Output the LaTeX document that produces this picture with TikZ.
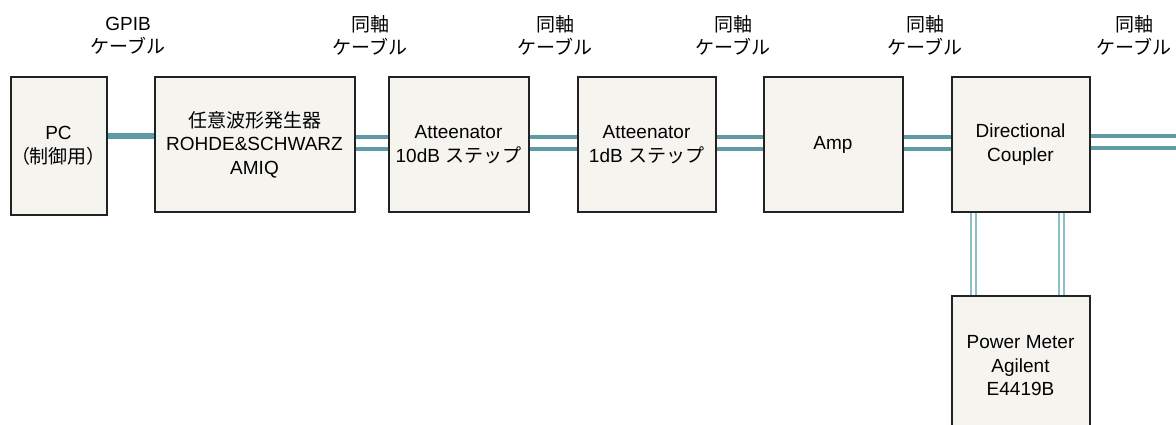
\documentclass[tikz,border=0pt]{standalone}
\usepackage{fontspec}
\setmainfont{Liberation Sans}
\newfontfamily\jp{Noto Sans CJK JP}
\definecolor{boxfill}{HTML}{F5F4EF}
\definecolor{boxline}{HTML}{222222}
\definecolor{cable}{HTML}{5E9BA4}
\definecolor{cablelight}{HTML}{8DBFC7}
\begin{document}
\begin{tikzpicture}[x=1pt,y=-1pt,
  every node/.style={font=\fontsize{19}{23.5}\selectfont, align=center, inner sep=0pt},
  device/.style={draw=boxline, line width=2pt, fill=boxfill, rectangle},
  gpib/.style={draw=cable, line width=6pt},
  coax/.style={draw=cable, line width=4pt, double=white, double distance=7.5pt},
  thincoax/.style={draw=cablelight, line width=1.8pt, double=white, double distance=3.5pt},
  lbl/.style={}]
\useasboundingbox (0,0) rectangle (1176,425);
\begin{scope}
\clip (0,0) rectangle (1176,425);
% devices
\node[device, minimum width=96pt, minimum height=137pt] (pc) at (58.5,146) {PC\\{\jp （制御用）}};
\node[device, minimum width=200pt, minimum height=134pt] (sg) at (254.5,144.5) {{\jp 任意波形発生器}\\ROHDE\&SCHWARZ\\AMIQ};
\node[device, minimum width=140pt, minimum height=134pt] (att1) at (458.5,144.5) {Atteenator\\10dB {\jp ステップ}};
\node[device, minimum width=138pt, minimum height=134pt] (att2) at (646.5,144.5) {Atteenator\\1dB {\jp ステップ}};
\node[device, minimum width=139pt, minimum height=134pt] (amp) at (833,144.5) {Amp};
\node[device, minimum width=138pt, minimum height=134pt] (dc) at (1020.5,144.5) {Directional\\Coupler};
\node[device, minimum width=138pt, minimum height=141pt] (pm) at (1020.5,366) {Power Meter\\Agilent\\E4419B};
\coordinate (out) at (1180,142);
% connectors
\draw[gpib] ([yshift=10pt]pc.east) -- ([yshift=8.5pt]sg.west);
\draw[coax] ([yshift=1.5pt]sg.east) -- ([yshift=1.5pt]att1.west);
\draw[coax] ([yshift=1.5pt]att1.east) -- ([yshift=1.5pt]att2.west);
\draw[coax] ([yshift=1.5pt]att2.east) -- ([yshift=1.5pt]amp.west);
\draw[coax] ([yshift=1.5pt]amp.east) -- ([yshift=1.5pt]dc.west);
\draw[coax] (dc.east |- out) -- (out);
\draw[thincoax] ([xshift=-47pt]dc.south) -- ([xshift=-47pt]pm.north);
\draw[thincoax] ([xshift=41.2pt]dc.south) -- ([xshift=41.2pt]pm.north);
% labels
\node[lbl] (l0) at (128,35.5) {GPIB\\{\jp ケーブル}};
\node[lbl] (l1) at (370,35.5) {{\jp 同軸}\\{\jp ケーブル}};
\node[lbl] (l2) at (555,35.5) {{\jp 同軸}\\{\jp ケーブル}};
\node[lbl] (l3) at (733,35.5) {{\jp 同軸}\\{\jp ケーブル}};
\node[lbl] (l4) at (925,35.5) {{\jp 同軸}\\{\jp ケーブル}};
\node[lbl] (l5) at (1134,35.5) {{\jp 同軸}\\{\jp ケーブル}};
\end{scope}
\end{tikzpicture}
\end{document}
